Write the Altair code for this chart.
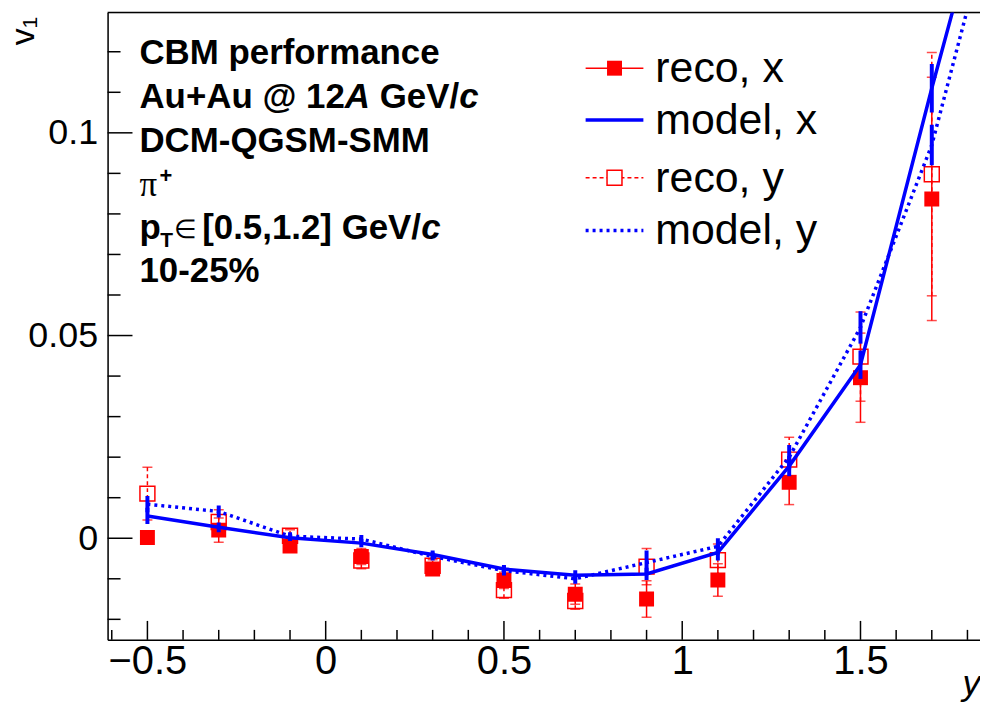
import altair as alt
import pandas as pd

# ---------------- data ----------------
rapidity = [-0.5, -0.3, -0.1, 0.1, 0.3, 0.5, 0.7, 0.9, 1.1, 1.3, 1.5, 1.7]
reco_x = [0.0002, 0.0020, -0.0019, -0.0045, -0.0076, -0.0104, -0.0138, -0.0150, -0.0103, 0.0138, 0.0396, 0.0837]
reco_x_err = [0.0015, 0.0030, 0.0015, 0.0020, 0.0015, 0.0020, 0.0025, 0.0045, 0.0040, 0.0055, 0.0110, 0.0300]
reco_y = [0.0110, 0.0040, 0.0006, -0.0055, -0.0068, -0.0128, -0.0155, -0.0070, -0.0054, 0.0194, 0.0448, 0.0898]
reco_y_err = [0.0065, 0.0030, 0.0015, 0.0020, 0.0015, 0.0020, 0.0020, 0.0045, 0.0040, 0.0055, 0.0110, 0.0300]

model_rapidity = [-0.5, -0.3, -0.1, 0.1, 0.3, 0.5, 0.7, 0.9, 1.1, 1.3, 1.5, 1.7, 1.9]
model_x = [0.0055, 0.0027, 0.0001, -0.0012, -0.0040, -0.0076, -0.0091, -0.0088, -0.0035, 0.0178, 0.0428, 0.1110, 0.1760]
model_x_err = [0.0020, 0.0012, 0.0008, 0.0010, 0.0010, 0.0010, 0.0012, 0.0015, 0.0020, 0.0025, 0.0035, 0.0060, 0.0080]
model_y = [0.0084, 0.0066, 0.0005, -0.0002, -0.0045, -0.0080, -0.0100, -0.0060, -0.0020, 0.0200, 0.0520, 0.0970, 0.1640]
model_y_err = [0.0020, 0.0015, 0.0010, 0.0010, 0.0010, 0.0012, 0.0012, 0.0030, 0.0020, 0.0030, 0.0040, 0.0050, 0.0080]

x_major = [-0.5, 0.0, 0.5, 1.0, 1.5]
x_minor = [-0.6, -0.4, -0.3, -0.2, -0.1, 0.1, 0.2, 0.3, 0.4, 0.6, 0.7, 0.8, 0.9,
           1.1, 1.2, 1.3, 1.4, 1.6, 1.7, 1.8]
y_major = [0.0, 0.05, 0.1]
y_minor = [-0.02, -0.01, 0.01, 0.02, 0.03, 0.04, 0.06, 0.07, 0.08, 0.09, 0.11, 0.12]

legend_labels = ["reco, x", "model, x", "reco, y", "model, y"]
info_lines = ["CBM performance", "DCM-QGSM-SMM", "10-25%"]

# ---------------- layout ----------------
W, H = 876, 630
XMIN, XMAX = -0.6117, 1.8352
YMIN, YMAX = -0.02506, 0.1297
FONT = "Liberation Sans"
RED = "#ff0000"
BLUE = "#0000ff"

xscale = alt.Scale(domain=[XMIN, XMAX], nice=False, zero=False)
yscale = alt.Scale(domain=[YMIN, YMAX], nice=False, zero=False)

x_axis = alt.Axis(values=x_major, ticks=False, tickSize=0, grid=False, domainColor="black",
                  domainWidth=1.5, labelFont=FONT, labelFontSize=40, labelColor="black",
                  labelPadding=2, labelFlush=False, labelOverlap=False,
                  labelExpr="replace('' + datum.value, '-', '\u2212')",
                  title="y", titleFont=FONT, titleFontStyle="italic", titleFontWeight="normal",
                  titleFontSize=36, titleColor="black", titleAnchor="end", titleAlign="right",
                  titleX=W, titleY=55, titleBaseline="alphabetic")
y_axis = alt.Axis(values=y_major, ticks=False, tickSize=0, grid=False, domainColor="black",
                  domainWidth=1.5, labelFont=FONT, labelFontSize=36, labelColor="black",
                  labelPadding=10, labelFlush=False, labelOverlap=False,
                  labelExpr="'' + datum.value",
                  title="v\u2081", titleFont=FONT, titleFontWeight="normal", titleFontSize=34,
                  titleColor="black", titleAngle=-90, titleAlign="right", titleBaseline="alphabetic",
                  titleX=-74, titleY=4)


def X(field="x"):
    return alt.X(f"{field}:Q", scale=xscale, axis=x_axis)


def Y(field="v"):
    return alt.Y(f"{field}:Q", scale=yscale, axis=y_axis)


def frame(xs, vs, errs):
    return pd.DataFrame({"x": xs, "v": vs,
                         "lo": [a - e for a, e in zip(vs, errs)],
                         "hi": [a + e for a, e in zip(vs, errs)]})


rx = frame(rapidity, reco_x, reco_x_err)
ry = frame(rapidity, reco_y, reco_y_err)
mx = frame(model_rapidity, model_x, model_x_err)
my = frame(model_rapidity, model_y, model_y_err)
one = pd.DataFrame({"a": [0]})

layers = []

# axis carrier (invisible)
layers.append(alt.Chart(rx).mark_point(opacity=0).encode(x=X(), y=Y()))

# inward ticks
layers.append(alt.Chart(pd.DataFrame({"x": x_major})).mark_rule(color="black", strokeWidth=1.5)
              .encode(x=X(), y=alt.value(H), y2=alt.value(H - 19)))
layers.append(alt.Chart(pd.DataFrame({"x": x_minor})).mark_rule(color="black", strokeWidth=1.5)
              .encode(x=X(), y=alt.value(H), y2=alt.value(H - 10)))
layers.append(alt.Chart(pd.DataFrame({"v": y_major})).mark_rule(color="black", strokeWidth=1.5)
              .encode(y=Y(), x=alt.value(0), x2=alt.value(25)))
layers.append(alt.Chart(pd.DataFrame({"v": y_minor})).mark_rule(color="black", strokeWidth=1.5)
              .encode(y=Y(), x=alt.value(0), x2=alt.value(13)))
# top frame line
layers.append(alt.Chart(one).mark_rule(color="black", strokeWidth=1.5)
              .encode(x=alt.value(0), x2=alt.value(W), y=alt.value(0)))

# reco, x
layers.append(alt.Chart(rx).mark_rule(color=RED, strokeWidth=1.5, clip=True)
              .encode(x=X(), y=Y("lo"), y2="hi:Q"))
for f in ["lo", "hi"]:
    layers.append(alt.Chart(rx).mark_tick(color=RED, orient="horizontal", size=10, thickness=1.5, clip=True)
                  .encode(x=X(), y=Y(f)))
layers.append(alt.Chart(rx).mark_square(color=RED, size=225, opacity=1, filled=True, clip=True)
              .encode(x=X(), y=Y()))

# reco, y
layers.append(alt.Chart(ry).mark_rule(color=RED, strokeWidth=1.5, strokeDash=[4, 3], clip=True)
              .encode(x=X(), y=Y("lo"), y2="hi:Q"))
for f in ["lo", "hi"]:
    layers.append(alt.Chart(ry).mark_tick(color=RED, orient="horizontal", size=10, thickness=1.5, clip=True)
                  .encode(x=X(), y=Y(f)))
layers.append(alt.Chart(ry).mark_square(stroke=RED, fill=None, filled=False, size=225, strokeWidth=1.5,
                                        opacity=1, clip=True)
              .encode(x=X(), y=Y()))

# model, x
layers.append(alt.Chart(mx).mark_line(color=BLUE, strokeWidth=3.5, clip=True)
              .encode(x=X(), y=Y()))
layers.append(alt.Chart(mx).mark_rule(color=BLUE, strokeWidth=4, clip=True)
              .encode(x=X(), y=Y("lo"), y2="hi:Q"))

# model, y
layers.append(alt.Chart(my).mark_line(color=BLUE, strokeWidth=3.5, strokeDash=[3, 4], clip=True)
              .encode(x=X(), y=Y()))
layers.append(alt.Chart(my).mark_rule(color=BLUE, strokeWidth=4, clip=True)
              .encode(x=X(), y=Y("lo"), y2="hi:Q"))

# ---------------- legend ----------------
LX0, LX1, LXM, LXT = 480, 538, 509, 550
rows = [56, 108, 166, 219]
layers.append(alt.Chart(one).mark_rule(color=RED, strokeWidth=1.5)
              .encode(x=alt.value(LX0), x2=alt.value(LX1), y=alt.value(rows[0])))
layers.append(alt.Chart(one).mark_square(color=RED, size=225, opacity=1, filled=True)
              .encode(x=alt.value(LXM), y=alt.value(rows[0])))
layers.append(alt.Chart(one).mark_rule(color=BLUE, strokeWidth=3.5)
              .encode(x=alt.value(LX0), x2=alt.value(LX1), y=alt.value(rows[1])))
layers.append(alt.Chart(one).mark_rule(color=RED, strokeWidth=1.5, strokeDash=[4, 3])
              .encode(x=alt.value(LX0), x2=alt.value(LX1), y=alt.value(rows[2])))
layers.append(alt.Chart(one).mark_square(stroke=RED, fill="white", filled=False, size=225, strokeWidth=1.5, opacity=1)
              .encode(x=alt.value(LXM), y=alt.value(rows[2])))
layers.append(alt.Chart(one).mark_rule(color=BLUE, strokeWidth=3.5, strokeDash=[3, 4])
              .encode(x=alt.value(LX0), x2=alt.value(LX1), y=alt.value(rows[3])))
for lab, ry_ in zip(legend_labels, rows):
    layers.append(alt.Chart(one).mark_text(text=lab, font=FONT, fontSize=43, align="left",
                                           baseline="middle", color="black")
                  .encode(x=alt.value(LXT), y=alt.value(ry_ + 1)))

# ---------------- info text ----------------
TX = 32
BFS = 35


def txt(s, x, y, size=BFS, weight="bold", style="normal", font=FONT):
    return (alt.Chart(one).mark_text(text=s, font=font, fontSize=size, fontWeight=weight,
                                     fontStyle=style, align="left", baseline="alphabetic",
                                     color="black")
            .encode(x=alt.value(x), y=alt.value(y)))


base = [52, 96, 140, 184, 228, 271]
layers.append(txt(info_lines[0], TX, base[0]))
# Au+Au @ 12A GeV/c
layers.append(txt("Au+Au @ 12", TX, base[1]))
layers.append(txt("A", TX + 5.893 * BFS, base[1], style="italic"))
layers.append(txt("GeV/", TX + 6.893 * BFS, base[1]))
layers.append(txt("c", TX + 9.172 * BFS, base[1], style="italic"))
layers.append(txt(info_lines[1], TX, base[2]))
# pi+
layers.append(txt("\u03c0", TX, base[3], weight="normal", font="Liberation Serif"))
layers.append(txt("+", TX + 20, base[3] - 13, size=22))
# pT in [0.5,1.2] GeV/c
layers.append(txt("p", TX, base[4]))
layers.append(txt("T", TX + 21, base[4] + 8, size=21))
layers.append(txt("\u2208", TX + 35, base[4] - 1, size=26, weight="normal"))
layers.append(txt("[0.5,1.2] GeV/", TX + 63, base[4]))
layers.append(txt("c", TX + 63 + 6.281 * BFS, base[4], style="italic"))
layers.append(txt(info_lines[2], TX, base[5]))

chart = (alt.layer(*layers)
         .properties(width=W, height=H,
                     padding={"left": 100, "top": 3, "right": 0, "bottom": 68},
                     autosize=alt.AutoSizeParams(type="none"))
         .configure_view(stroke=None)
         .configure(background="white"))

chart.save("out.html", embed_options={"renderer": "svg", "actions": False})
